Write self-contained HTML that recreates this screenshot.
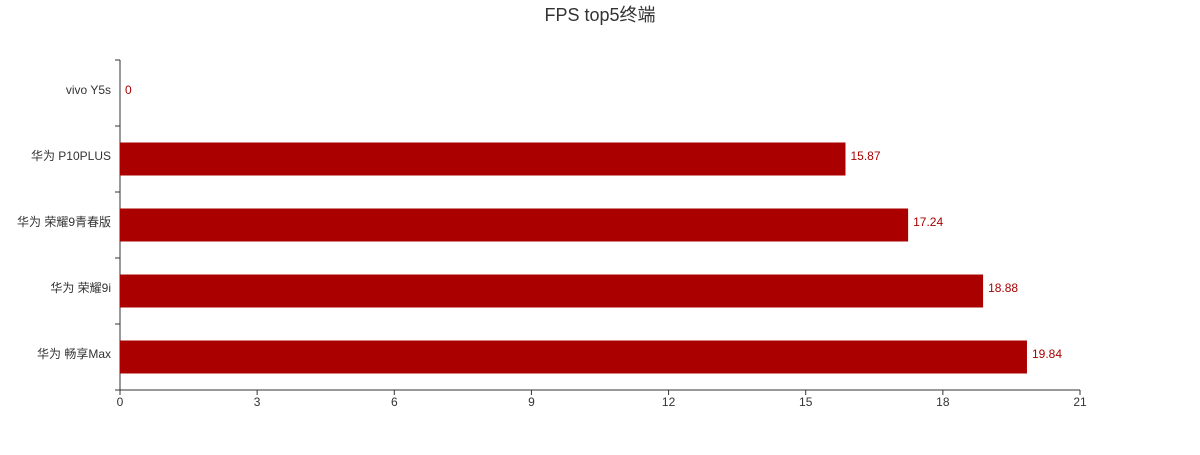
<!DOCTYPE html>
<html><head><meta charset="utf-8"><style>
body{margin:0;background:#fff}
svg text{font-family:"Liberation Sans","Noto Sans CJK SC",sans-serif}
</style></head><body>
<svg id="chart" width="1200" height="450" xmlns="http://www.w3.org/2000/svg">
<text x="600" y="21" text-anchor="middle" font-size="18" fill="#333">FPS top5终端</text>
<g id="g"></g>
</svg>
<script>
const categories=["vivo Y5s","华为 P10PLUS","华为 荣耀9青春版","华为 荣耀9i","华为 畅享Max"];
const values=[0,15.87,17.24,18.88,19.84];
const xTicks=[0,3,6,9,12,15,18,21];
const x0=120,x1=1080,yTop=60,yBot=390,xMax=21;
const xs=v=>x0+(v/xMax)*(x1-x0);
const band=(yBot-yTop)/categories.length;
const ys=i=>yTop+band*i;
const g=document.getElementById('g');
const NS="http://www.w3.org/2000/svg";
function mk(t,a){const e=document.createElementNS(NS,t);for(const k in a)e.setAttribute(k,a[k]);g.appendChild(e);return e;}
let e=mk('line',{x1:x0,y1:yTop,x2:x0,y2:yBot,stroke:'#333'});


e=mk('line',{x1:x0,y1:yBot,x2:x1,y2:yBot,stroke:'#333'});


for(let i=0;i<=categories.length;i++){
 e=mk('line',{x1:x0-5,y1:ys(i),x2:x0,y2:ys(i),stroke:'#333'});
 
 
}
xTicks.forEach(t=>{
 e=mk('line',{x1:xs(t),y1:yBot,x2:xs(t),y2:yBot+5,stroke:'#333'});
 
 
 e=mk('text',{x:xs(t),y:yBot+16,'text-anchor':'middle','font-size':12,fill:'#333'});
 e.textContent=t;
 
 
});
categories.forEach((c,i)=>{
 const cy=ys(i)+band/2;
 e=mk('text',{x:111,y:cy+1,'text-anchor':'end','font-size':12,fill:'#333'});
 e.textContent=c;
 
 
 const v=values[i];
 if(v>0){
  e=mk('rect',{x:x0,y:cy-band/4,width:xs(v)-x0,height:band/2,fill:'#aa0000'});
  
  
 }
 e=mk('text',{x:xs(v)+5,y:cy+1,'font-size':12,fill:'#aa0000'});
 e.textContent=v;
 
 
});
</script>
</body></html>
